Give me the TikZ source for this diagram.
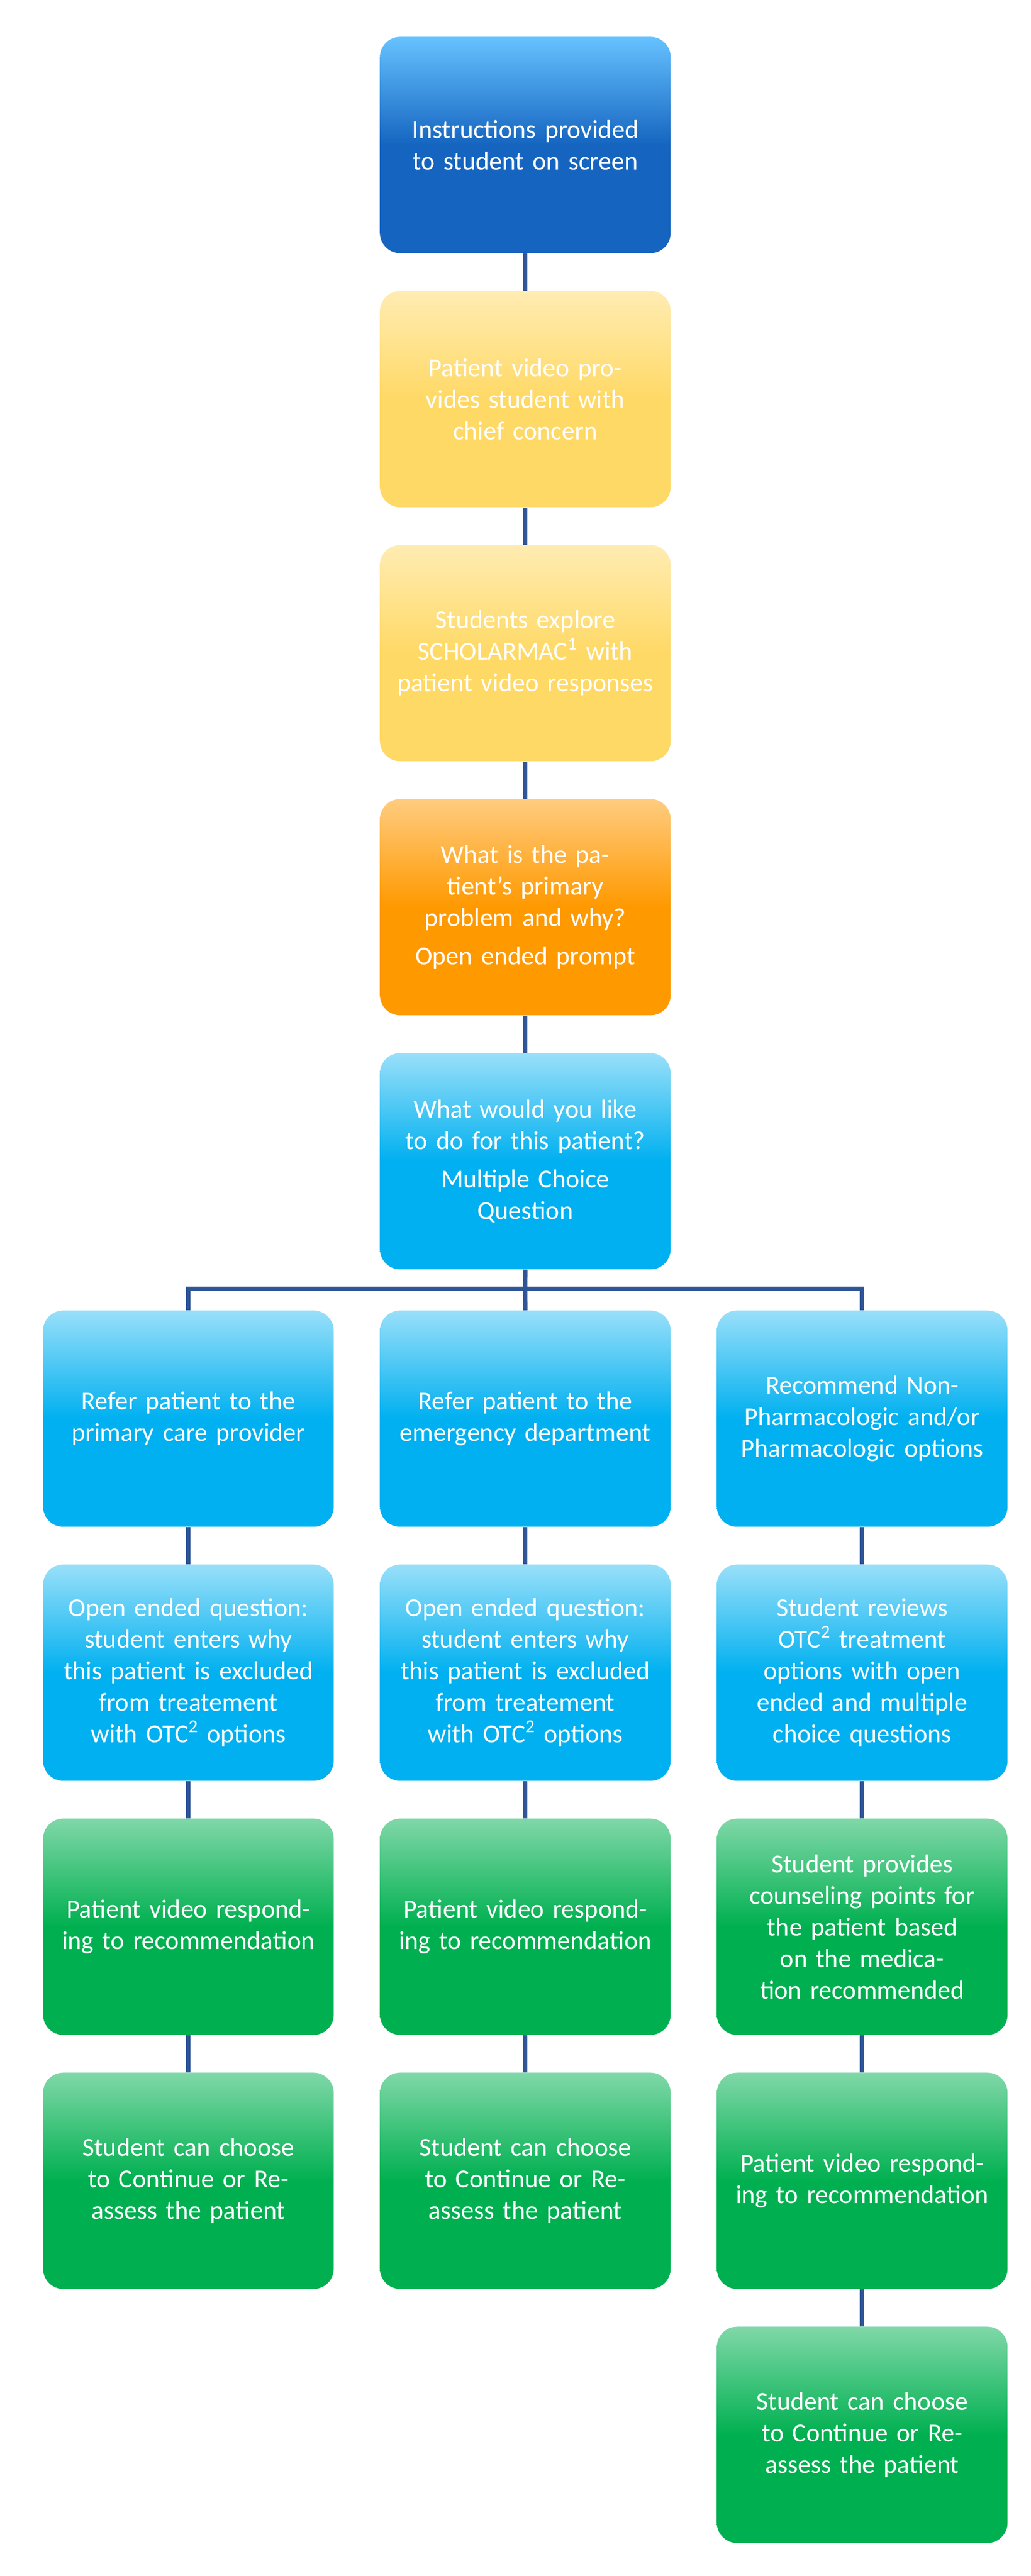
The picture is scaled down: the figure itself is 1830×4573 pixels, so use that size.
\documentclass[tikz,border=0pt]{standalone}
\usepackage{fontspec}
\setmainfont{Carlito}
\begin{document}
\begin{tikzpicture}[x=0.5pt,y=-0.5pt,
 box/.style={draw=none,rounded corners=18pt,minimum width=258pt,minimum height=192pt,text width=236pt,align=center,text=white,
   font=\fontsize{23}{28}\selectfont,anchor=north west,inner sep=0pt},
 blu/.style={box,top color=#1!55!white,bottom color=#1,middle color=#1,shading angle=0},
 cdark/.style={box,top color=cyan!60!blue!60!white,bottom color=dkb,middle color=dkb},
 cyl/.style={box,top color=ylw!50!white,bottom color=ylw,middle color=ylw},
 cor/.style={box,top color=org!50!white,bottom color=org,middle color=org},
 ccy/.style={box,top color=cya!40!white,bottom color=cya,middle color=cya},
 cgr/.style={box,top color=grn!50!white,bottom color=grn,middle color=grn},
 ln/.style={draw=lnc,line width=4pt}]
\definecolor{dkb}{HTML}{1565C0}
\definecolor{ylw}{HTML}{FFD966}
\definecolor{org}{HTML}{FF9900}
\definecolor{cya}{HTML}{00B0F0}
\definecolor{grn}{HTML}{00B050}
\definecolor{lnc}{HTML}{2F5597}
\useasboundingbox[fill=white] (0,0) rectangle (1830,4573);
% center column
\def\cx{674}
\node[cdark] (a) at (\cx,65) {Instructions provided to student on screen};
\node[cyl] (b) at (\cx,516) {Patient video provides student with chief concern};
\node[cyl] (c) at (\cx,967) {Students explore SCHOLARMAC\textsuperscript{1} with patient video responses};
\node[cor] (d) at (\cx,1418) {What is the patient’s primary problem and why?\\[6pt]Open ended prompt};
\node[ccy] (e) at (\cx,1869) {What would you like to do for this patient?\\[6pt]Multiple Choice Question};
% columns
\node[ccy] (l1) at (76,2326) {Refer patient to the primary care provider};
\node[ccy] (m1) at (674,2326) {Refer patient to the emergency department};
\node[ccy] (r1) at (1272,2326) {Recommend Non-Pharmacologic and/or Pharmacologic options};
\node[ccy] (l2) at (76,2777) {Open ended question: student enters why this patient is excluded from treatement with OTC\textsuperscript{2} options};
\node[ccy] (m2) at (674,2777) {Open ended question: student enters why this patient is excluded from treatement with OTC\textsuperscript{2} options};
\node[ccy] (r2) at (1272,2777) {Student reviews OTC\textsuperscript{2} treatment options with open ended and multiple choice questions};
\node[cgr] (l3) at (76,3228) {Patient video responding to recommendation};
\node[cgr] (m3) at (674,3228) {Patient video responding to recommendation};
\node[cgr] (r3) at (1272,3228) {Student provides counseling points for the patient based on the medication recommended};
\node[cgr] (l4) at (76,3679) {Student can choose to Continue or Reassess the patient};
\node[cgr] (m4) at (674,3679) {Student can choose to Continue or Reassess the patient};
\node[cgr] (r4) at (1272,3679) {Patient video responding to recommendation};
\node[cgr] (r5) at (1272,4130) {Student can choose to Continue or Reassess the patient};
\begin{scope}[on background layer/.style={}]
\end{scope}
\foreach \u/\v in {a/b,b/c,c/d,d/e,l1/l2,l2/l3,l3/l4,m1/m2,m2/m3,m3/m4,r1/r2,r2/r3,r3/r4,r4/r5}
  \draw[ln] (\u.south) -- (\v.north);
\coordinate (h) at (932,2288);
\draw[ln] (e.south) -- (h) -- (m1.north);
\draw[ln] (l1.north) |- (h) -| (r1.north);
\end{tikzpicture}
\end{document}
